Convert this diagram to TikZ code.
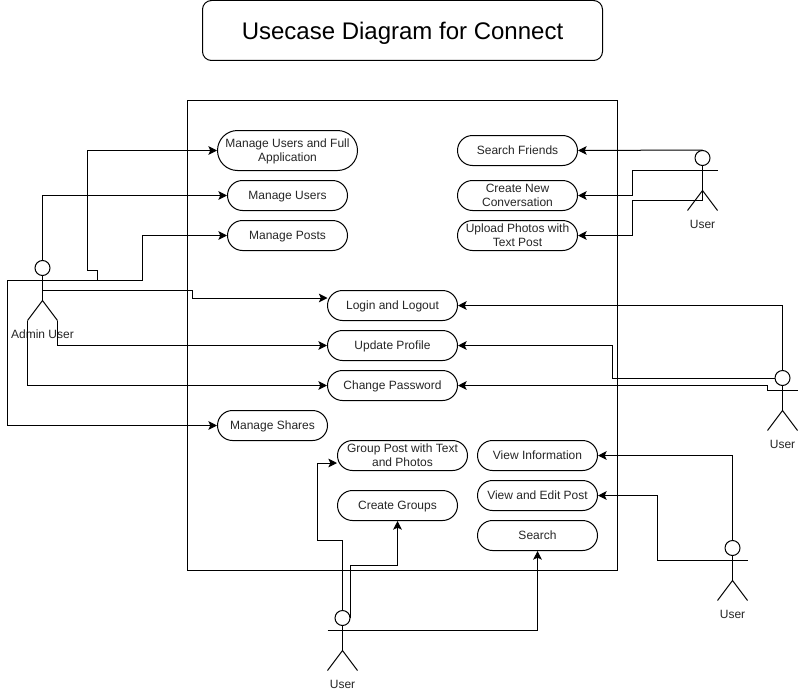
\documentclass[tikz,border=0pt]{standalone}
\usepackage{fontspec}
\setmainfont{Liberation Sans}
\usetikzlibrary{arrows.meta,shapes.misc}
\tikzset{
  base/.style={line width=0.75pt,draw=black},
  uc/.style={base,rounded rectangle,minimum height=22.5pt,inner sep=0pt,text=black!85,font=\fontsize{9}{10.5}\selectfont},
  conn/.style={line width=0.75pt,draw=black,-{Stealth[length=6.5pt,width=6.5pt,inset=1.5pt]}},
  plainline/.style={line width=0.75pt,draw=black},
  headnode/.style={base,circle,minimum size=11.25pt,inner sep=0pt},
  actorlabel/.style={text=black!85,font=\fontsize{9}{10.5}\selectfont,inner sep=0pt},
}
% centred lines of text, set a little lower than the middle of the node
\newcommand{\uctext}[1]{\raisebox{-3.45pt}[0pt][0pt]{\begin{tabular}{@{}c@{}}#1\end{tabular}}}
% name, x, y of head centre, label text
\newcommand{\umlactor}[4]{%
  \node[headnode] (#1) at (#2,#3) {};
  \coordinate (#1armL) at (#2-15,#3+12.5);
  \coordinate (#1armR) at (#2+15,#3+12.5);
  \coordinate (#1hip) at (#2,#3+32.5);
  \coordinate (#1footL) at (#2-15,#3+52.5);
  \coordinate (#1footR) at (#2+15,#3+52.5);
  \draw[plainline] (#1.south) -- (#1hip);
  \draw[plainline] (#1armL) -- (#1armR);
  \draw[plainline] (#1footL) -- (#1hip) -- (#1footR);
  \node[actorlabel] (#1label) at (#2,#3+66) {#4};
}
\begin{document}
\begin{tikzpicture}[x=0.75pt,y=-0.75pt]
\useasboundingbox (0,0) rectangle (798,692);
\fill[white] (0,0) rectangle (798,692);

\node[base,rectangle,rounded corners=6.75pt,minimum width=300pt,minimum height=45pt,inner sep=0pt,font=\fontsize{18}{21}\selectfont] (title) at (402.5,30.5) {\vbox{\vskip 3.6pt\hbox{Usecase Diagram for Connect}}};
\node[base,rectangle,minimum width=322.5pt,minimum height=352.5pt,inner sep=0pt] (system) at (402.5,335.5) {};

\node[uc,minimum width=105pt,minimum height=30pt] (mufa) at (287.5,150.5) {\uctext{Manage Users and Full\\Application}};
\node[uc,minimum width=90pt] (mu) at (287.5,195.5) {\uctext{Manage Users}};
\node[uc,minimum width=90pt] (mp) at (287.5,235.5) {\uctext{Manage Posts}};
\node[uc,minimum width=90pt] (sf) at (517.5,150.5) {\uctext{Search Friends}};
\node[uc,minimum width=90pt] (cnc) at (517.5,195.5) {\uctext{Create New\\Conversation}};
\node[uc,minimum width=90pt] (upl) at (517.5,235.5) {\uctext{Upload Photos with\\Text Post}};
\node[uc,minimum width=97.5pt] (login) at (392.5,305.5) {\uctext{Login and Logout}};
\node[uc,minimum width=97.5pt] (upd) at (392.5,345.5) {\uctext{Update Profile}};
\node[uc,minimum width=97.5pt] (cp) at (392.5,385.5) {\uctext{Change Password}};
\node[uc,minimum width=82.5pt] (ms) at (272.5,425.5) {\uctext{Manage Shares}};
\node[uc,minimum width=97.5pt] (gp) at (402.5,455.5) {\uctext{Group Post with Text\\and Photos}};
\node[uc,minimum width=90pt] (cg) at (397.5,505.5) {\uctext{Create Groups}};
\node[uc,minimum width=90pt] (vi) at (537.5,455.5) {\uctext{View Information}};
\node[uc,minimum width=90pt] (ve) at (537.5,495.5) {\uctext{View and Edit Post}};
\node[uc,minimum width=90pt] (se) at (537.5,535.5) {\uctext{Search}};

\umlactor{admin}{42.5}{268}{Admin User}
\umlactor{utop}{702.5}{158}{User}
\umlactor{uright}{782.5}{378}{User}
\umlactor{ubr}{732.5}{548}{User}
\umlactor{ubl}{342.5}{618}{User}

% Admin connectors
\coordinate (abranch) at (97.5,280.5);
\draw[conn] (abranch) -- (97.5,270.5) -- (87.5,270.5) |- (mufa.west);
\draw[conn] (admin.north) |- (mu.west);
\draw[conn] (adminarmR) -| (142.5,235.5) -- (mp.west);
\draw[conn] (adminarmL) -| (7.5,425.5) -- (ms.west);
\coordinate (abody) at (42.5,290.5);
\coordinate (loginin) at (327.5,298);
\draw[conn] (abody) -| (192.5,298) -- (loginin);
\draw[conn] (adminfootR) |- (upd.west);
\draw[conn] (adminfootL) |- (cp.west);

% Top user
\draw[conn] (utop.north) -- (sf.east);
\draw[conn] (utoparmL) -| (632.5,195.5) -- (cnc.east);
\coordinate (uleg) at (702.5,200.5);
\draw[conn] (utophip) -- (uleg) -| (632.5,235.5) -- (upl.east);

% Right user
\draw[conn] (uright.north) |- (login.east);
\draw[conn] (uright.west) -| (612.5,345.5) -- (upd.east);
\draw[conn] (urightarmL) -- (767.5,385.5) -- (cp.east);

% Bottom right user
\draw[conn] (ubr.north) |- (vi.east);
\draw[conn] (ubrarmL) -| (657.5,495.5) -- (ve.east);

% Bottom left user
\coordinate (gpin) at (337,463);
\draw[conn] (ubl.north) |- (317.5,540.5) |- (gpin);
\draw[conn] (ubl.east) |- (397.5,565.5) -- (cg.south);
\draw[conn] (ublarmR) -| (se.south);
\end{tikzpicture}
\end{document}
